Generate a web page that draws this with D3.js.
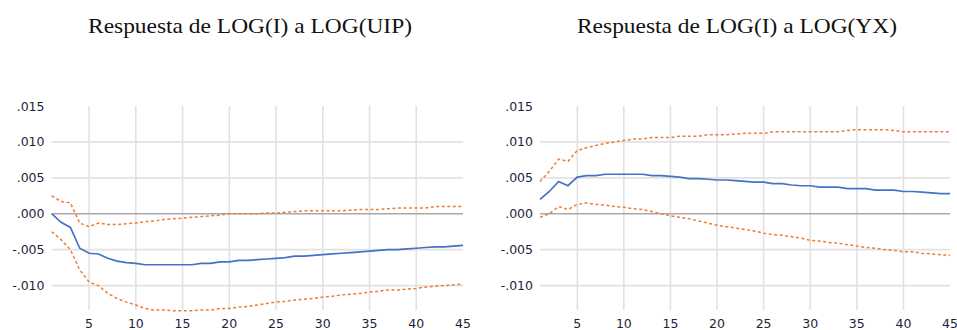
<!DOCTYPE html>
<html>
<head>
<meta charset="utf-8">
<script src="https://cdn.jsdelivr.net/npm/d3@7/dist/d3.min.js"></script>
<style>
  html, body { margin: 0; padding: 0; background: #ffffff; }
  svg { display: block; }
</style>
</head>
<body>
<svg id="chart" width="957" height="330"></svg>
<script>
// ---- data ----
const periods = [1,2,3,4,5,6,7,8,9,10,11,12,13,14,15,16,17,18,19,20,21,22,23,24,25,26,27,28,29,30,31,32,33,34,35,36,37,38,39,40,41,42,43,44,45];
const xTicks = [5,10,15,20,25,30,35,40,45];
const yTicks = [0.015, 0.010, 0.005, 0.000, -0.005, -0.010];
const yTickLabels = [".015", ".010", ".005", ".000", "-.005", "-.010"];
const titles = ["Respuesta de LOG(I) a LOG(UIP)", "Respuesta de LOG(I) a LOG(YX)"];

// Panel 1: LOG(I) to LOG(UIP)
const uipResp = [0.0000,-0.0012,-0.0019,-0.0048,-0.0055,-0.0056,-0.0062,-0.0066,-0.0068,-0.0069,
  -0.0071,-0.0071,-0.0071,-0.0071,-0.0071,-0.0071,-0.0069,-0.0069,-0.0067,-0.0067,
  -0.0065,-0.0065,-0.0064,-0.0063,-0.0062,-0.0061,-0.0059,-0.0059,-0.0058,-0.0057,
  -0.0056,-0.0055,-0.0054,-0.0053,-0.0052,-0.0051,-0.0050,-0.0050,-0.0049,-0.0048,
  -0.0047,-0.0046,-0.0046,-0.0045,-0.0044];
const uipUpper = [0.0025,0.0017,0.0015,-0.0013,-0.0018,-0.0013,-0.0015,-0.0015,-0.0014,-0.0013,
  -0.0011,-0.0010,-0.0008,-0.0007,-0.0006,-0.0005,-0.0004,-0.0003,-0.0002,0.0000,
  0.0000,0.0000,0.0000,0.0001,0.0001,0.0002,0.0003,0.0004,0.0004,0.0004,
  0.0004,0.0004,0.0005,0.0006,0.0006,0.0006,0.0007,0.0008,0.0008,0.0008,
  0.0008,0.0010,0.0010,0.0010,0.0010];
const uipLower = [-0.0025,-0.0036,-0.0050,-0.0078,-0.0095,-0.0100,-0.0111,-0.0118,-0.0123,-0.0127,
  -0.0132,-0.0134,-0.0134,-0.0135,-0.0135,-0.0135,-0.0134,-0.0134,-0.0132,-0.0132,
  -0.0130,-0.0129,-0.0127,-0.0125,-0.0123,-0.0122,-0.0120,-0.0119,-0.0118,-0.0116,
  -0.0115,-0.0113,-0.0112,-0.0111,-0.0109,-0.0108,-0.0106,-0.0106,-0.0105,-0.0104,
  -0.0102,-0.0101,-0.0100,-0.0099,-0.0098];

// Panel 2: LOG(I) to LOG(YX)
const yxResp = [0.0020,0.0031,0.0045,0.0039,0.0051,0.0053,0.0053,0.0055,0.0055,0.0055,
  0.0055,0.0055,0.0053,0.0053,0.0052,0.0051,0.0049,0.0049,0.0048,0.0047,
  0.0047,0.0046,0.0045,0.0044,0.0044,0.0042,0.0042,0.0040,0.0039,0.0039,
  0.0037,0.0037,0.0037,0.0035,0.0035,0.0035,0.0033,0.0033,0.0033,0.0031,
  0.0031,0.0030,0.0029,0.0028,0.0028];
const yxUpper = [0.0045,0.0059,0.0076,0.0073,0.0088,0.0092,0.0095,0.0098,0.0100,0.0102,
  0.0104,0.0104,0.0106,0.0106,0.0106,0.0108,0.0108,0.0108,0.0110,0.0110,
  0.0110,0.0111,0.0112,0.0112,0.0112,0.0114,0.0114,0.0114,0.0114,0.0114,
  0.0114,0.0114,0.0114,0.0116,0.0117,0.0117,0.0117,0.0117,0.0116,0.0114,
  0.0114,0.0114,0.0114,0.0114,0.0114];
const yxLower = [-0.0005,0.0000,0.0010,0.0006,0.0013,0.0015,0.0013,0.0012,0.0010,0.0009,
  0.0007,0.0006,0.0003,0.0000,-0.0003,-0.0005,-0.0007,-0.0010,-0.0013,-0.0016,
  -0.0018,-0.0020,-0.0022,-0.0024,-0.0027,-0.0029,-0.0030,-0.0032,-0.0034,-0.0037,
  -0.0038,-0.0040,-0.0041,-0.0043,-0.0045,-0.0047,-0.0048,-0.0050,-0.0051,-0.0053,
  -0.0053,-0.0055,-0.0056,-0.0057,-0.0058];

// ---- drawing ----
const svg = d3.select("#chart");
const panels = [
  { title: titles[0], resp: uipResp, upper: uipUpper, lower: uipLower, left: 51.7, right: 463, labelX: 44.5, titleX: 250, titleW: 324 },
  { title: titles[1], resp: yxResp, upper: yxUpper, lower: yxLower, left: 540, right: 950, labelX: 533, titleX: 737, titleW: 320 }
];

const blue = "#4472C4";
const orange = "#ED7D31";
const labelColor = "#1b1f3b";

panels.forEach(p => {
  const g = svg.append("g");
  const x = d3.scaleLinear().domain([1, 45]).range([p.left, p.right]);
  const y = d3.scaleLinear().domain([-0.0134, 0.015]).range([310, 106]);

  // title
  g.append("text")
    .attr("x", p.titleX).attr("y", 33)
    .attr("text-anchor", "middle")
    .attr("font-family", "'Liberation Serif', 'Times New Roman', serif")
    .attr("font-size", 22)
    .attr("textLength", p.titleW)
    .attr("lengthAdjust", "spacingAndGlyphs")
    .attr("fill", "#111")
    .text(p.title);

  // vertical gridlines
  g.selectAll(".vg").data(xTicks.filter(t => t < 45)).enter().append("line")
    .attr("x1", d => x(d)).attr("x2", d => x(d))
    .attr("y1", y(0.015)).attr("y2", y.range()[0])
    .attr("stroke", "#e2e2e2").attr("stroke-width", 1.6);

  // horizontal gridlines
  g.selectAll(".hg").data(yTicks.filter(t => t < 0.015 && t !== 0)).enter().append("line")
    .attr("x1", p.left).attr("x2", p.right)
    .attr("y1", d => y(d)).attr("y2", d => y(d))
    .attr("stroke", "#e2e2e2").attr("stroke-width", 1.6);

  // zero line
  g.append("line")
    .attr("x1", p.left).attr("x2", p.right)
    .attr("y1", y(0)).attr("y2", y(0))
    .attr("stroke", "#a9a9a9").attr("stroke-width", 1.4);

  // y labels
  g.selectAll(".yl").data(yTicks).enter().append("text")
    .attr("x", p.labelX).attr("y", d => y(d))
    .attr("dy", "0.36em")
    .attr("text-anchor", "end")
    .attr("font-family", "'DejaVu Sans', Verdana, sans-serif")
    .attr("font-size", 12.5)
    .attr("fill", labelColor)
    .text((d, i) => yTickLabels[i]);

  // x labels
  g.selectAll(".xl").data(xTicks).enter().append("text")
    .attr("x", d => x(d)).attr("y", 327.5)
    .attr("text-anchor", "middle")
    .attr("font-family", "'DejaVu Sans', Verdana, sans-serif")
    .attr("font-size", 12.5)
    .attr("fill", labelColor)
    .text(d => d);

  const line = d3.line().x((d, i) => x(periods[i])).y(d => y(d));

  [p.upper, p.lower].forEach(series => {
    g.append("path")
      .attr("d", line(series))
      .attr("fill", "none")
      .attr("stroke", orange)
      .attr("stroke-width", 1.5)
      .attr("stroke-dasharray", "3,2.5");
  });

  g.append("path")
    .attr("d", line(p.resp))
    .attr("fill", "none")
    .attr("stroke", blue)
    .attr("stroke-width", 1.7);
});
</script>
</body>
</html>
